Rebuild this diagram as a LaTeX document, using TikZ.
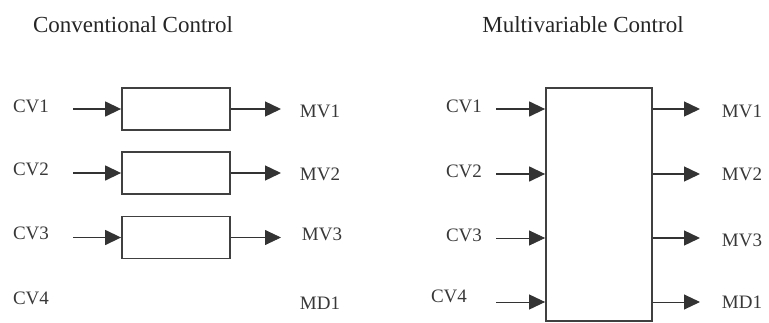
\documentclass[tikz,border=0pt]{standalone}
\usepackage{fontspec}
\setmainfont{Liberation Serif}
\usetikzlibrary{arrows.meta}
\begin{document}
\begin{tikzpicture}[x=1pt,y=-1pt,
    lbl/.style={text=black!78,font=\fontsize{19}{22}\selectfont,inner sep=0pt},
    ttl/.style={text=black!85,font=\fontsize{23}{27}\selectfont,inner sep=0pt},
    blk/.style={draw=black!75,line width=1.8pt,inner sep=0pt,minimum width=108pt,minimum height=42pt},
    arr/.style={-{Triangle[length=16pt,width=15pt]},line width=1.4pt,draw=black!80}]
  \useasboundingbox (0,0) rectangle (769,322);

  % conventional control
  \node[ttl] (conv) at (133,25) {Conventional Control};
  \node[blk] (box1) at (176,109) {};
  \node[blk] (box2) at (176,173) {};
  \node[blk] (box3) at (176,237.5) {};

  \node[lbl] (cv1) at (31,106) {CV1};
  \node[lbl] (cv2) at (31,169) {CV2};
  \node[lbl] (cv3) at (31,233) {CV3};
  \node[lbl] (cv4) at (31,298) {CV4};
  \node[lbl] (mv1) at (320,111) {MV1};
  \node[lbl] (mv2) at (320,174) {MV2};
  \node[lbl] (mv3) at (322,234) {MV3};
  \node[lbl] (md1) at (320,303) {MD1};

  \coordinate (in1) at (73,109);
  \coordinate (in2) at (73,173);
  \coordinate (in3) at (73,237.5);
  \coordinate (out1) at (281,109);
  \coordinate (out2) at (281,173);
  \coordinate (out3) at (281,237.5);

  \draw[arr] (in1) -- (box1.west);
  \draw[arr] (in2) -- (box2.west);
  \draw[arr] (in3) -- (box3.west);
  \draw[arr] (box1.east) -- (out1);
  \draw[arr] (box2.east) -- (out2);
  \draw[arr,line width=0.8pt] (box3.east) -- (out3);

  % multivariable control
  \node[ttl] (multi) at (583,25) {Multivariable Control};
  \node[blk,minimum width=106pt,minimum height=233pt] (mbox) at (599,204.5) {};

  \node[lbl] (mcv1) at (464,106) {CV1};
  \node[lbl] (mcv2) at (464,171) {CV2};
  \node[lbl] (mcv3) at (464,235) {CV3};
  \node[lbl] (mcv4) at (449,296) {CV4};
  \node[lbl] (mmv1) at (742,111) {MV1};
  \node[lbl] (mmv2) at (742,174) {MV2};
  \node[lbl] (mmv3) at (742,240) {MV3};
  \node[lbl] (mmd1) at (742,302) {MD1};

  \coordinate (min1) at (496,109);
  \coordinate (min2) at (496,174);
  \coordinate (min3) at (496,238);
  \coordinate (min4) at (496,302);
  \coordinate (mout1) at (700,109);
  \coordinate (mout2) at (700,174);
  \coordinate (mout3) at (700,238);
  \coordinate (mout4) at (700,302);

  \draw[arr] (min1) -- (mbox.west |- min1);
  \draw[arr] (min2) -- (mbox.west |- min2);
  \draw[arr,line width=0.8pt] (min3) -- (mbox.west |- min3);
  \draw[arr,line width=1pt] (min4) -- (mbox.west |- min4);
  \draw[arr] (mbox.east |- mout1) -- (mout1);
  \draw[arr] (mbox.east |- mout2) -- (mout2);
  \draw[arr] (mbox.east |- mout3) -- (mout3);
  \draw[arr,line width=1pt] (mbox.east |- mout4) -- (mout4);
\end{tikzpicture}
\end{document}
